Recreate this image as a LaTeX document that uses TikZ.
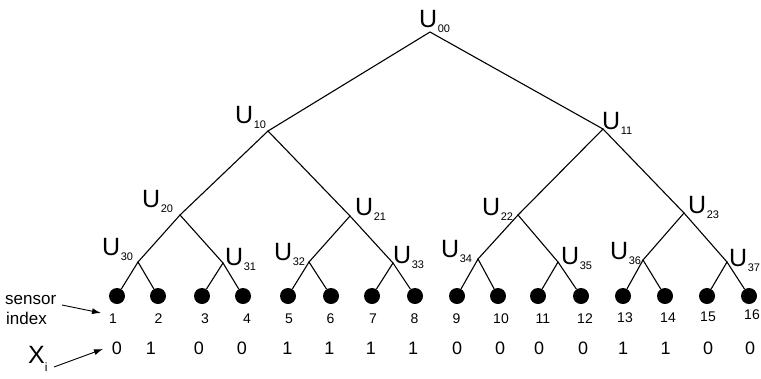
\documentclass[tikz,border=0pt]{standalone}
\usepackage{fontspec}
\setmainfont{Liberation Sans}
\usetikzlibrary{arrows.meta}

% U label with lowered small index
\newcommand{\Ulabel}[1]{{\fontsize{25bp}{25bp}\selectfont U}\kern0.5bp\raisebox{-5bp}{\fontsize{11bp}{11bp}\selectfont #1}}

\tikzset{
  branch/.style={line width=1.1bp, black},
  leaf/.style={circle, fill=black, inner sep=0pt, minimum size=16bp},
  ulabel/.style={anchor=base west, inner sep=0pt},
  idx/.style={anchor=base, inner sep=0pt, font=\fontsize{14bp}{14bp}\selectfont},
  val/.style={anchor=base, inner sep=0pt, font=\fontsize{18bp}{18bp}\selectfont},
  note/.style={anchor=base west, inner sep=0pt, font=\fontsize{17bp}{17bp}\selectfont},
  pointer/.style={line width=0.9bp, -{Latex[length=9bp,width=6bp]}}
}

\begin{document}
\begin{tikzpicture}[x=1bp, y=-1bp]
  \useasboundingbox (0,0) rectangle (761,378);

  % branching points
  \coordinate (j00) at (430,32);
  \coordinate (j10) at (268,131);
  \coordinate (j11) at (603,129);
  \coordinate (j20) at (180,215);
  \coordinate (j21) at (350,216);
  \coordinate (j22) at (518,215);
  \coordinate (j23) at (684,213);
  \coordinate (j30) at (138,262);
  \coordinate (j31) at (223,263);
  \coordinate (j32) at (309,262);
  \coordinate (j33) at (393,263);
  \coordinate (j34) at (478,259);
  \coordinate (j35) at (558,262);
  \coordinate (j36) at (643,260);
  \coordinate (j37) at (727,262);

  % sensors
  \foreach \i/\x in {1/117,2/158,3/202,4/243,5/288,6/331,7/372,8/415,
                     9/457,10/498,11/538,12/581,13/623,14/665,15/707,16/749}
    \node[leaf] (l\i) at (\x,296) {};

  % tree branches
  \draw[branch] (j10) -- (j00) -- (j11);
  \draw[branch] (j20) -- (j10) -- (j21);
  \draw[branch] (j22) -- (j11) -- (j23);
  \draw[branch] (j30) -- (j20) -- (j31);
  \draw[branch] (j32) -- (j21) -- (j33);
  \draw[branch] (j34) -- (j22) -- (j35);
  \draw[branch] (j36) -- (j23) -- (j37);
  \draw[branch] (l1) -- (j30) -- (l2);
  \draw[branch] (l3) -- (j31) -- (l4);
  \draw[branch] (l5) -- (j32) -- (l6);
  \draw[branch] (l7) -- (j33) -- (l8);
  \draw[branch] (l9) -- (j34) -- (l10);
  \draw[branch] (l11) -- (j35) -- (l12);
  \draw[branch] (l13) -- (j36) -- (l14);
  \draw[branch] (l15) -- (j37) -- (l16);

  % node labels
  \node[ulabel] (u00) at (419,27)  {\Ulabel{00}};
  \node[ulabel] (u10) at (235,123) {\Ulabel{10}};
  \node[ulabel] (u11) at (602,129) {\Ulabel{11}};
  \node[ulabel] (u20) at (142,207) {\Ulabel{20}};
  \node[ulabel] (u21) at (355,215) {\Ulabel{21}};
  \node[ulabel] (u22) at (482,215) {\Ulabel{22}};
  \node[ulabel] (u23) at (688,213) {\Ulabel{23}};
  \node[ulabel] (u30) at (102,255) {\Ulabel{30}};
  \node[ulabel] (u31) at (225,265) {\Ulabel{31}};
  \node[ulabel] (u32) at (274,260) {\Ulabel{32}};
  \node[ulabel] (u33) at (393,263) {\Ulabel{33}};
  \node[ulabel] (u34) at (441,257) {\Ulabel{34}};
  \node[ulabel] (u35) at (561,264) {\Ulabel{35}};
  \node[ulabel] (u36) at (610,259) {\Ulabel{36}};
  \node[ulabel] (u37) at (729,266) {\Ulabel{37}};

  % sensor indices
  \foreach \i/\x/\y in {1/113/323,2/158.5/323,3/205/323,4/247/323,5/289/323,
                        6/330.5/323,7/373/323,8/414.5/323,9/456.5/323,10/501/323,
                        11/543/323,12/585/323,13/625/322,14/668/322,15/708/321,16/752/319}
    \node[idx] (n\i) at (\x,\y) {\i};

  % sensor values
  \foreach \i/\x/\v in {1/117/0,2/151/1,3/199/0,4/242/0,5/287.5/1,6/329.5/1,
                        7/371/1,8/413/1,9/457/0,10/500/0,11/539/0,12/583/0,
                        13/623/1,14/665.5/1,15/708/0,16/750/0}
    \node[val] (v\i) at (\x,354) {\v};

  % legend on the left
  \node[note] (sensor) at (5,304) {sensor};
  \node[note] (index)  at (6,324) {index};
  \coordinate (sensortail) at (62,305);
  \coordinate (sensorhead) at (101,313);
  \draw[pointer] (sensortail) -- (sensorhead);

  \node[anchor=base west, inner sep=0pt] (xi) at (28,363)
    {{\fontsize{25bp}{25bp}\selectfont X}\raisebox{-8bp}{\fontsize{12bp}{12bp}\selectfont i}};
  \coordinate (xitail) at (54,367);
  \coordinate (xihead) at (103,349);
  \draw[pointer] (xitail) -- (xihead);
\end{tikzpicture}
\end{document}
